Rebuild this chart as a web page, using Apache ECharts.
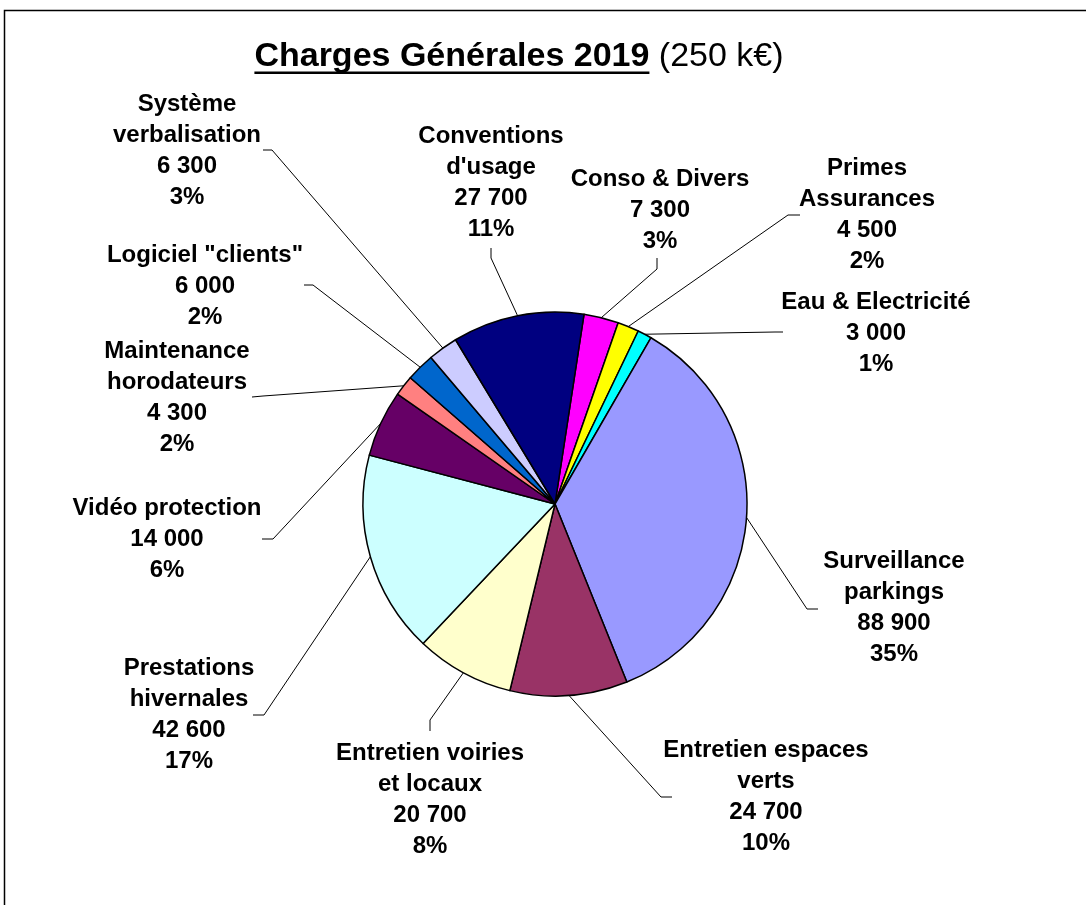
<!DOCTYPE html>
<html>
<head>
<meta charset="utf-8">
<script src="https://cdn.jsdelivr.net/npm/echarts@6/dist/echarts.min.js"></script>
<style>
  html, body { margin: 0; padding: 0; background: #fff; }
  #chart { width: 1086px; height: 905px; }
</style>
</head>
<body>
<div id="chart"></div>
<script>
// ---- Data (clockwise from the top) ----
const categories = [
  'Conso & Divers',
  'Primes\nAssurances',
  'Eau & Electricité',
  'Surveillance\nparkings',
  'Entretien espaces\nverts',
  'Entretien voiries\net locaux',
  'Prestations\nhivernales',
  'Vidéo protection',
  'Maintenance\nhorodateurs',
  'Logiciel "clients"',
  'Système\nverbalisation',
  "Conventions\nd'usage"
];
const values = [7300, 4500, 3000, 88900, 24700, 20700, 42600, 14000, 4300, 6000, 6300, 27700];
const percentLabels = ['3%', '2%', '1%', '35%', '10%', '8%', '17%', '6%', '2%', '2%', '3%', '11%'];
const colors = ['#FF00FF', '#FFFF00', '#00FFFF', '#9999FF', '#993366', '#FFFFCC',
                '#CCFFFF', '#660066', '#FF8080', '#0066CC', '#CCCCFF', '#000080'];
const titleBold = 'Charges Générales 2019';
const titleNormal = '(250 k€)';

// ---- Label layout (label centre x, middle y, leader knee, leader end) ----
const labelLayoutCfg = [
  [660, 210, [657, 269], [657, 258]],
  [867, 215, [788, 215], [800, 215]],
  [876, 333, [775, 332], [783, 332]],
  [894, 608, [807, 609], [818, 609]],
  [766, 797, [661, 797], [672, 797]],
  [430, 800, [430, 720], [430, 731]],
  [189, 715, [264, 715], [253, 715]],
  [167, 539, [273, 539], [262, 539]],
  [177, 398, [263, 396], [252, 397]],
  [205, 286, [313, 285], [304, 285]],
  [187, 151, [272, 150], [263, 150]],
  [491, 183, [491, 258], [491, 248]]
];

const FONT = '"Liberation Sans", Arial, sans-serif';

function fmt(v) {
  return String(v).replace(/\B(?=(\d{3})+(?!\d))/g, ' ');
}

const chart = echarts.init(document.getElementById('chart'));

// title measurement
const TITLE_SIZE = 34;
const ctx = document.createElement('canvas').getContext('2d');
ctx.font = 'bold ' + TITLE_SIZE + 'px ' + FONT;
const wBold = ctx.measureText(titleBold).width;
ctx.font = TITLE_SIZE + 'px ' + FONT;
const wNorm = ctx.measureText(titleNormal).width;
const wSpace = ctx.measureText(' ').width;
const titleCx = 519, titleCy = 57;
const tx0 = titleCx - (wBold + wSpace + wNorm) / 2;

const data = categories.map((c, i) => ({
  name: c,
  value: values[i],
  itemStyle: { color: colors[i] }
}));

chart.setOption({
  animation: false,
  backgroundColor: '#fff',
  graphic: [
    { type: 'rect', shape: { x: 4.5, y: 10.5, width: 3000, height: 3000 },
      style: { fill: 'none', stroke: '#000', lineWidth: 1.5 }, silent: true },
    { type: 'text', x: tx0, y: titleCy,
      style: { text: titleBold, font: 'bold ' + TITLE_SIZE + 'px ' + FONT, fill: '#000',
               textAlign: 'left', textVerticalAlign: 'middle' } },
    { type: 'text', x: tx0 + wBold + wSpace, y: titleCy,
      style: { text: titleNormal, font: TITLE_SIZE + 'px ' + FONT, fill: '#000',
               textAlign: 'left', textVerticalAlign: 'middle' } },
    { type: 'line', shape: { x1: tx0, y1: titleCy + TITLE_SIZE * 0.46, x2: tx0 + wBold, y2: titleCy + TITLE_SIZE * 0.46 },
      style: { stroke: '#000', lineWidth: 2.5 } }
  ],
  series: [{
    type: 'pie',
    center: [555, 504],
    radius: 192,
    startAngle: 81.3,
    clockwise: true,
    avoidLabelOverlap: false,
    data: data,
    itemStyle: { borderColor: '#000', borderWidth: 1.5 },
    emphasis: { disabled: true },
    label: {
      show: true,
      position: 'outside',
      color: '#000',
      fontFamily: FONT,
      fontWeight: 'bold',
      fontSize: 24,
      lineHeight: 31,
      align: 'center',
      formatter: function (p) {
        return p.name + '\n' + fmt(p.value) + '\n' + percentLabels[p.dataIndex];
      }
    },
    labelLine: {
      show: true,
      length: 20,
      length2: 10,
      lineStyle: { color: '#000', width: 1 }
    },
    labelLayout: function (params) {
      const cfg = labelLayoutCfg[params.dataIndex];
      const pts = params.labelLinePoints;
      const p0 = pts ? [pts[0][0], pts[0][1]] : cfg[2];
      return {
        x: cfg[0],
        y: cfg[1],
        align: 'center',
        verticalAlign: 'middle',
        labelLinePoints: [p0, cfg[2], cfg[3]]
      };
    }
  }]
});
</script>
</body>
</html>
